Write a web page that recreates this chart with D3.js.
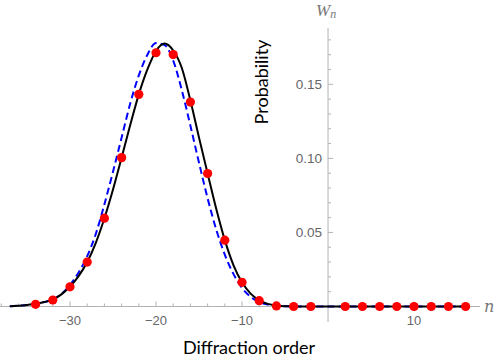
<!DOCTYPE html>
<html>
<head>
<meta charset="utf-8">
<script src="https://cdn.jsdelivr.net/npm/d3@7"></script>
<style>
  body { margin: 0; background: #fff; }
  svg { display: block; }
</style>
</head>
<body>
<div id="chart"></div>
<script>
// curve samples (diffraction order n = -37 .. 16)
const curveN = d3.range(-37, 17);
const solidVals = [0.0002, 0.0005, 0.001, 0.0018, 0.003, 0.0047, 0.0082, 0.0135, 0.0205, 0.030,
    0.043, 0.0596, 0.079, 0.1005, 0.1225, 0.1432, 0.160, 0.1725, 0.1775, 0.1728,
    0.161, 0.139, 0.114, 0.0898, 0.066, 0.0448, 0.028, 0.0163, 0.0087, 0.0042,
    0.0018, 0.0007, 0.0002, 0.0001, 0, 0, 0, 0, 0, 0,
    0, 0, 0, 0, 0, 0, 0, 0, 0, 0, 0, 0, 0, 0];
const dashedVals = [0.0002, 0.0005, 0.001, 0.0018, 0.003, 0.0048, 0.0085, 0.0145, 0.023, 0.034,
    0.049, 0.069, 0.091, 0.114, 0.137, 0.156, 0.170, 0.1778, 0.1765, 0.166,
    0.146, 0.122, 0.097, 0.073, 0.052, 0.035, 0.022, 0.0125, 0.0065, 0.003,
    0.0013, 0.0005, 0.0002, 0, 0, 0, 0, 0, 0, 0,
    0, 0, 0, 0, 0, 0, 0, 0, 0, 0, 0, 0, 0, 0];

// red points
const dotN = [-34, -32, -30, -28, -26, -24, -22, -20, -18, -16, -14, -12, -10, -8, -6, -4, -2,
    2, 4, 6, 8, 10, 12, 14, 16];
const dotVals = [0.0015, 0.0044, 0.0133, 0.030, 0.0596, 0.1005, 0.1432, 0.1713, 0.1701, 0.138,
    0.0898, 0.0448, 0.0163, 0.0039, 0.0004, 0, 0,
    0, 0, 0, 0, 0, 0, 0, 0];

// ticks
const xMajor = [-30, -20, -10, 10];
const xMinor = d3.range(-38, 17, 2).filter(d => d !== 0 && !xMajor.includes(d));
const yMajor = [0.05, 0.10, 0.15];
const yMinor = d3.range(1, 19).map(d => d / 100).filter(d => !yMajor.some(m => Math.abs(m - d) < 1e-9));

const width = 498, height = 360;

const svg = d3.select("#chart").append("svg")
    .attr("width", width)
    .attr("height", height);

let x = d3.scaleLinear().domain([-38.14, 17.67]).range([0, 480]);
let y = d3.scaleLinear().domain([0, 0.15]).range([306.5, 84.3]);

const axisColor = "#b3b3b3";
const labelColor = "#666";
const tickFont = "Liberation Sans, Arial, sans-serif";

// x axis line
svg.append("line")
    .attr("x1", 0).attr("x2", 480)
    .attr("y1", y(0)).attr("y2", y(0))
    .attr("stroke", axisColor).attr("stroke-width", 1);

// y axis line
svg.append("line")
    .attr("x1", x(0)).attr("x2", x(0))
    .attr("y1", 28).attr("y2", 322)
    .attr("stroke", axisColor).attr("stroke-width", 1);

// x ticks (pointing up)
svg.selectAll(".xminor").data(xMinor).enter().append("line")
    .attr("x1", d => x(d)).attr("x2", d => x(d))
    .attr("y1", y(0)).attr("y2", y(0) - 3)
    .attr("stroke", axisColor);
svg.selectAll(".xmajor").data(xMajor).enter().append("line")
    .attr("x1", d => x(d)).attr("x2", d => x(d))
    .attr("y1", y(0)).attr("y2", y(0) - 5)
    .attr("stroke", axisColor);
svg.selectAll(".xlab").data(xMajor).enter().append("text")
    .attr("x", d => x(d))
    .attr("y", 325)
    .attr("text-anchor", "middle")
    .attr("font-family", tickFont)
    .attr("font-size", 13)
    .attr("fill", labelColor)
    .text(d => d < 0 ? "\u2212" + Math.abs(d) : d);

// y ticks (pointing right)
svg.selectAll(".yminor").data(yMinor).enter().append("line")
    .attr("x1", x(0)).attr("x2", x(0) + 3)
    .attr("y1", d => y(d)).attr("y2", d => y(d))
    .attr("stroke", axisColor);
svg.selectAll(".ymajor").data(yMajor).enter().append("line")
    .attr("x1", x(0)).attr("x2", x(0) + 5)
    .attr("y1", d => y(d)).attr("y2", d => y(d))
    .attr("stroke", axisColor);
svg.selectAll(".ylab").data(yMajor).enter().append("text")
    .attr("x", x(0) - 6)
    .attr("y", d => y(d))
    .attr("dy", "0.36em")
    .attr("text-anchor", "end")
    .attr("font-family", tickFont)
    .attr("font-size", 13.5)
    .attr("fill", labelColor)
    .text(d => d3.format(".2f")(d));

// axis symbols
svg.append("text")
    .attr("x", 484).attr("y", y(0) + 5)
    .attr("font-family", "DejaVu Serif, Liberation Serif, serif")
    .attr("font-style", "italic")
    .attr("font-size", 16)
    .attr("fill", "#777")
    .text("n");
let wn = svg.append("text")
    .attr("x", 316).attr("y", 16)
    .attr("font-family", "Liberation Serif, serif")
    .attr("font-style", "italic")
    .attr("font-size", 17)
    .attr("fill", "#777");
wn.append("tspan").text("W");
wn.append("tspan").attr("font-size", 12).attr("dy", 2).text("n");

// axis titles
svg.append("text")
    .attr("transform", `translate(268, 82) rotate(-90)`)
    .attr("text-anchor", "middle")
    .attr("font-family", "Lato, Open Sans, sans-serif")
    .attr("font-size", 18)
    .attr("fill", "#000")
    .text("Probability");
svg.append("text")
    .attr("x", 249).attr("y", 354)
    .attr("text-anchor", "middle")
    .attr("font-family", "Lato, Open Sans, sans-serif")
    .attr("font-size", 18)
    .attr("fill", "#000")
    .text("Diffraction order");

// curves
let line = d3.line()
    .x(d => x(d[0]))
    .y(d => y(d[1]))
    .curve(d3.curveMonotoneX);

svg.append("path")
    .datum(curveN.map((n, i) => [n, dashedVals[i]]))
    .attr("d", line)
    .attr("fill", "none")
    .attr("stroke", "#0000ff")
    .attr("stroke-width", 2)
    .attr("stroke-dasharray", "7,4");

svg.append("path")
    .datum(curveN.map((n, i) => [n, solidVals[i]]))
    .attr("d", line)
    .attr("fill", "none")
    .attr("stroke", "#000")
    .attr("stroke-width", 2);

// points
svg.selectAll(".dot").data(dotN.map((n, i) => [n, dotVals[i]])).enter().append("circle")
    .attr("cx", d => x(d[0]))
    .attr("cy", d => y(d[1]))
    .attr("r", 4.6)
    .attr("fill", "#ff0000");
</script>
</body>
</html>
